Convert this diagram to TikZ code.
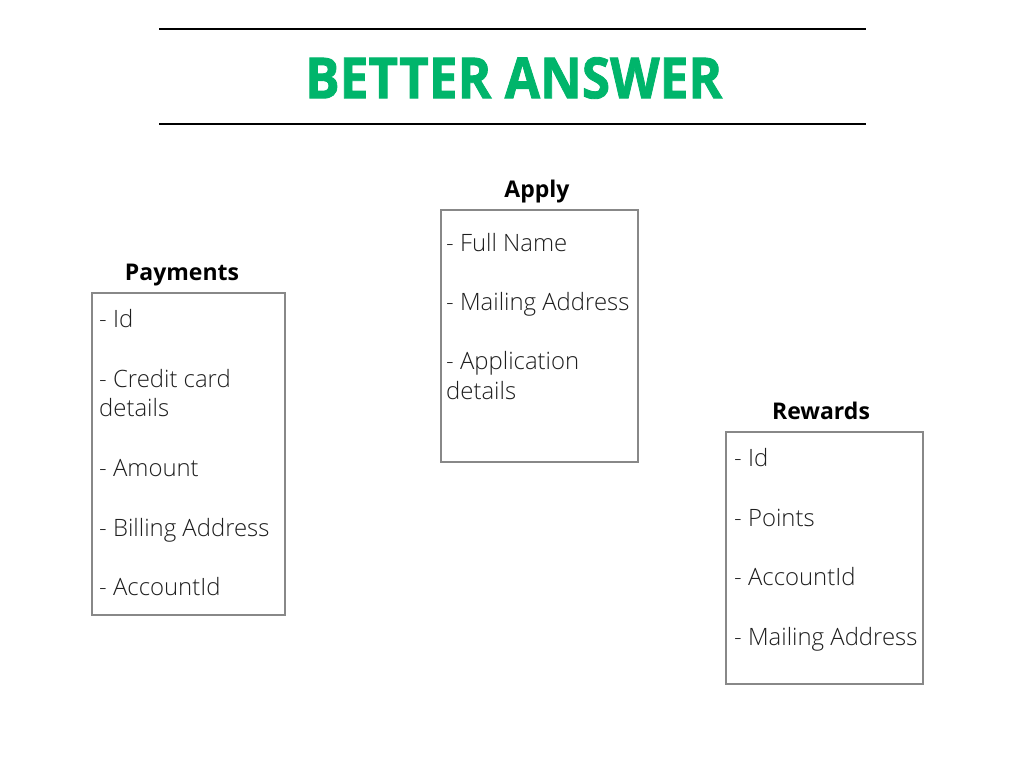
\documentclass[tikz,border=0pt]{standalone}
\usepackage{fontspec}
\setmainfont{Open Sans}
\newfontfamily\lightfont{Open Sans Light}
\newfontfamily\headfont{Open Sans Bold}
\newfontfamily\titlefont[FakeBold=1.5]{Open Sans Bold}
\definecolor{titlegreen}{RGB}{0,181,107}
\definecolor{boxgray}{RGB}{136,136,136}
\definecolor{txt}{RGB}{30,30,30}
\tikzset{
  rule/.style={line width=2pt, black},
  entity/.style={draw=boxgray, line width=2pt, rectangle, inner sep=0pt},
  item/.style={anchor=base west, inner sep=0pt, text=txt, font=\lightfont\fontsize{23.9}{30}\selectfont, align=left},
  head/.style={anchor=base, inner sep=0pt, font=\headfont\fontsize{23}{26}\selectfont},
}
\begin{document}
\begin{tikzpicture}[x=1pt,y=-1pt]
\useasboundingbox (0,0) rectangle (1024,768);
% title rules
\coordinate (r1a) at (159,29); \coordinate (r1b) at (866,29);
\coordinate (r2a) at (159,124); \coordinate (r2b) at (866,124);
\draw[rule] (r1a) -- (r1b);
\draw[rule] (r2a) -- (r2b);
\node[anchor=south west, inner sep=0pt, text=titlegreen] (title) at (305,99)
  {\resizebox{417pt}{41pt}{\titlefont BETTER ANSWER}};
% Payments
\node[entity, minimum width=193pt, minimum height=322pt, anchor=north west] (pay) at (91,292) {};
\node[head] (payh) at (182,280) {Payments};
\node[item] (p1) at (99,327) {- Id};
\node[item] (p2) at (99,387) {- Credit card};
\node[item] (p3) at (99,416) {details};
\node[item] (p4) at (99,476) {- Amount};
\node[item] (p5) at (99,536) {- Billing Address};
\node[item] (p6) at (99,595) {- AccountId};
% Apply
\node[entity, minimum width=197pt, minimum height=252pt, anchor=north west] (app) at (440,209) {};
\node[head] (apph) at (537,197) {Apply};
\node[item] (a1) at (446,251) {- Full Name};
\node[item] (a2) at (446,310) {- Mailing Address};
\node[item] (a3) at (446,369) {- Application};
\node[item] (a4) at (446,399) {details};
% Rewards
\node[entity, minimum width=197pt, minimum height=252pt, anchor=north west] (rew) at (725,431) {};
\node[head] (rewh) at (821,419) {Rewards};
\node[item] (w1) at (734,466) {- Id};
\node[item] (w2) at (734,526) {- Points};
\node[item] (w3) at (734,585) {- AccountId};
\node[item] (w4) at (734,645) {- Mailing Address};
\end{tikzpicture}
\end{document}
